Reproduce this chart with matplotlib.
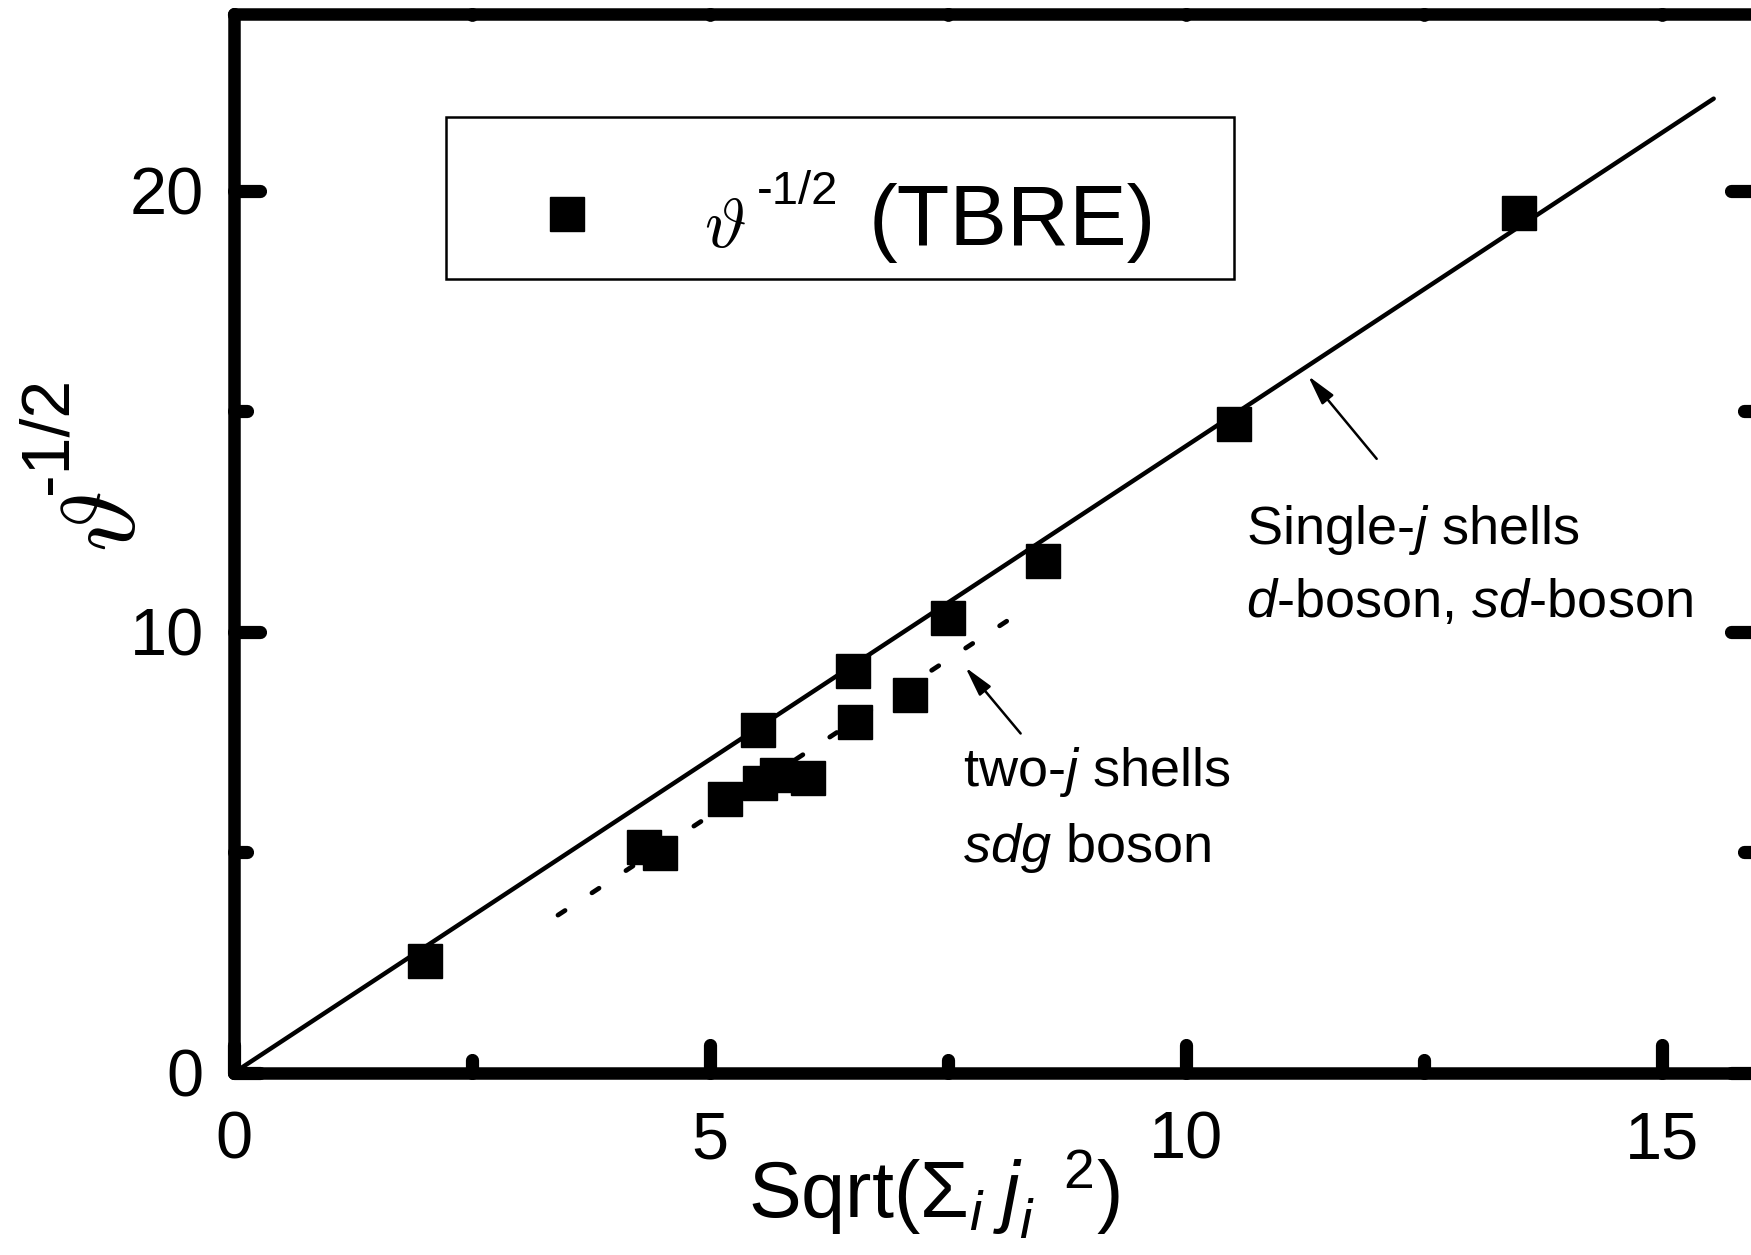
import matplotlib
matplotlib.use("Agg")
import matplotlib.pyplot as plt
from matplotlib.markers import MarkerStyle
from matplotlib.patches import Rectangle

plt.rcParams['font.family'] = 'Liberation Sans'
plt.rcParams['mathtext.fontset'] = 'custom'
plt.rcParams['mathtext.rm'] = 'Liberation Sans'
plt.rcParams['mathtext.it'] = 'Liberation Sans:italic'
plt.rcParams['mathtext.bf'] = 'Liberation Sans:bold'

# single-j shells, d-boson, sd-boson
x_single = [2.0, 5.5, 6.5, 7.5, 8.5, 10.5, 13.5]
y_single = [2.52, 7.78, 9.11, 10.30, 11.61, 14.70, 19.50]

# two-j shells, sdg boson
x_two = [4.30, 4.47, 5.15, 5.52, 5.70, 6.03, 6.52, 7.10]
y_two = [5.12, 4.99, 6.20, 6.57, 6.75, 6.69, 7.95, 8.56]

# straight line fits (end points)
fit_single_x = [0.0, 15.54]
fit_single_y = [0.0, 22.09]
fit_two_x = [3.40, 8.25]
fit_two_y = [3.57, 10.43]

xticks_major = [0, 5, 10, 15]
xticks_minor = [2.5, 7.5, 12.5]
yticks_major = [0, 10, 20]
yticks_minor = [5, 15]

fig = plt.figure(figsize=(17.51, 12.55), dpi=100)
ax = fig.add_axes([0.1338, 0.1454, 0.8699, 0.8431])

ax.plot(fit_single_x, fit_single_y, color='black', lw=3.2, solid_capstyle='round')
ax.plot(fit_two_x, fit_two_y, color='black', lw=3.4,
        linestyle=(0, (1.8, 6.8)), dash_capstyle='round')
ax.plot(x_single, y_single, 's', color='black', ms=25, mew=1, zorder=3)
ax.plot(x_two, y_two, 's', color='black', ms=25, mew=1, zorder=3)

ax.set_xlim(0, 16)
ax.set_ylim(0, 24)
ax.set_xticks(xticks_major)
ax.set_xticks(xticks_minor, minor=True)
ax.set_yticks(yticks_major)
ax.set_yticks(yticks_minor, minor=True)

ax.tick_params(which='both', direction='in', width=9.5, top=True, right=True,
               labelsize=48, colors='black')
ax.tick_params(which='major', length=19)
ax.tick_params(which='minor', length=9.5)
ax.tick_params(axis='x', which='major', length=20, pad=27)
ax.tick_params(axis='y', which='major', pad=22)

for sp in ax.spines.values():
    sp.set_linewidth(9)
    sp.set_capstyle('round')

# rounded tick ends; top ticks are only small bumps
for t in ax.xaxis.get_major_ticks() + ax.xaxis.get_minor_ticks() + \
        ax.yaxis.get_major_ticks() + ax.yaxis.get_minor_ticks():
    for ln in (t.tick1line, t.tick2line):
        ln.set_marker(MarkerStyle(ln.get_marker(), capstyle='round'))
for t in ax.xaxis.get_major_ticks() + ax.xaxis.get_minor_ticks():
    t.tick2line.set_markersize(0.6)

# axis labels
ax.set_xlabel(r'Sqrt($\Sigma_{i}\;j_{i}^{\;\;\;2}$)', fontsize=57)
ax.xaxis.label.set_ha('left')
ax.xaxis.label.set_va('baseline')
ax.xaxis.set_label_coords(0.3373, -0.1375)

fig.text(0.0771, 0.5602, r'$\vartheta$', rotation=90, rotation_mode='anchor',
         ha='left', va='baseline', fontsize=75, math_fontfamily='cm')
fig.text(0.03826, 0.6064, '-1/2', rotation=90, rotation_mode='anchor',
         ha='left', va='baseline', fontsize=49)

# legend box
ax.add_patch(Rectangle((0.139, 0.7499), 0.5173, 0.1531, transform=ax.transAxes,
                       fill=False, lw=1.8, edgecolor='black', zorder=4))
ax.plot([0.2184], [0.8114], 's', color='black', ms=25, mew=1,
        transform=ax.transAxes, clip_on=False, zorder=4)
fig.text(0.4020, 0.8030, r'$\vartheta$', ha='left', va='baseline',
         fontsize=51, math_fontfamily='cm')
fig.text(0.4325, 0.8375, '-1/2', ha='left', va='baseline', fontsize=34)
fig.text(0.4963, 0.8048, '(TBRE)', ha='left', va='baseline', fontsize=62)

# annotations
ax.text(10.63, 11.98, 'Single-$j$ shells', fontsize=39, ha='left', va='baseline')
ax.text(10.63, 10.33, '$d$-boson, $sd$-boson', fontsize=39, ha='left', va='baseline')
ax.text(7.65, 6.50, 'two-$j$ shells', fontsize=39, ha='left', va='baseline')
ax.text(7.65, 4.77, '$sdg$ boson', fontsize=39, ha='left', va='baseline')

arrow = dict(arrowstyle='-|>,head_length=1.8,head_width=0.45', color='black',
             lw=1.8, shrinkA=0, shrinkB=0, mutation_scale=10)
ax.annotate('', xy=(11.28, 15.80), xytext=(12.00, 13.92), arrowprops=arrow)
ax.annotate('', xy=(7.68, 9.19), xytext=(8.26, 7.69), arrowprops=arrow)

fig.savefig('out.png', dpi=100)
